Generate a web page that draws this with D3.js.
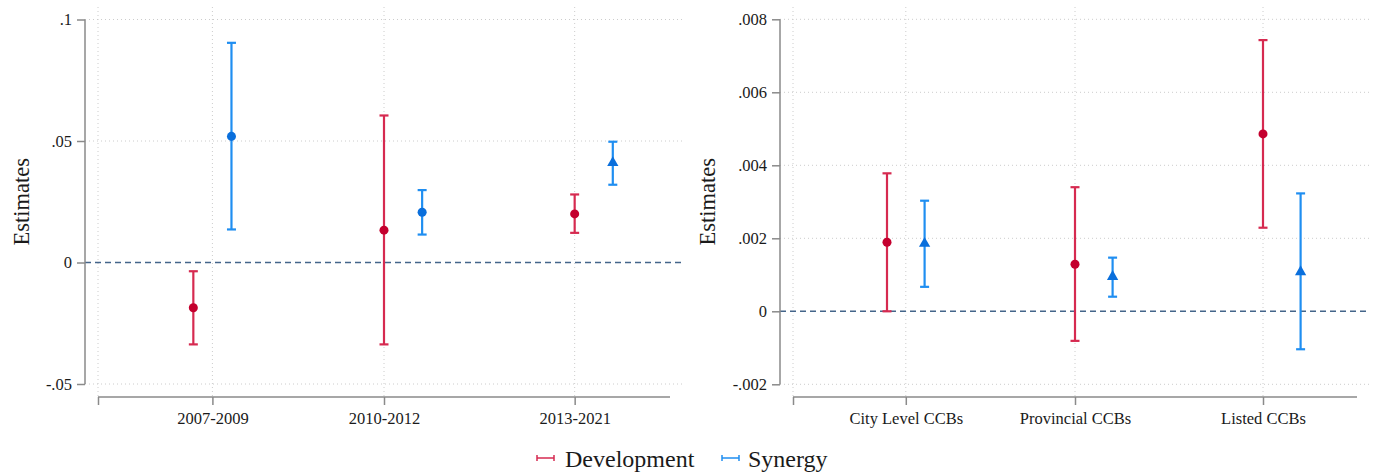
<!DOCTYPE html>
<html>
<head>
<meta charset="utf-8">
<script src="https://cdn.jsdelivr.net/npm/d3@7"></script>
<style>
  body { margin: 0; background: #fff; }
  svg text { font-family: "Liberation Serif", "Times New Roman", serif; fill: #1a1a1a; }
</style>
</head>
<body>
<svg id="svg" width="1375" height="475"></svg>
<script>
// left panel: by period
var periods = ["2007-2009", "2010-2012", "2013-2021"];
var periodTicks = [1, 1.9, 2.9];
var devPeriodEst = [-0.0186, 0.0133, 0.0200];
var devPeriodLo  = [-0.0337, -0.0337, 0.0122];
var devPeriodHi  = [-0.0036, 0.0605, 0.0280];
var synPeriodEst = [0.0519, 0.0207, 0.0410];
var synPeriodLo  = [0.0136, 0.0115, 0.0320];
var synPeriodHi  = [0.0904, 0.0298, 0.0497];
var synPeriodShape = ["circle", "circle", "triangle"];
var periodYTicks = [-0.05, 0, 0.05, 0.1];

// right panel: by bank type
var bankTypes = ["City Level CCBs", "Provincial CCBs", "Listed CCBs"];
var bankTicks = [1, 1.9, 2.9];
var devBankEst = [0.00189, 0.00129, 0.00486];
var devBankLo  = [0.0000, -0.00081, 0.00229];
var devBankHi  = [0.00378, 0.00340, 0.00743];
var synBankEst = [0.00186, 0.00095, 0.00108];
var synBankLo  = [0.00067, 0.00040, -0.00104];
var synBankHi  = [0.00303, 0.00147, 0.00323];
var synBankShape = ["triangle", "triangle", "triangle"];
var bankYTicks = [-0.002, 0, 0.002, 0.004, 0.006, 0.008];

var groupPos = [1, 2, 3];
var seriesNames = ["Development", "Synergy"];

var RED_LINE = "#d62a50", RED_DOT = "#c4002e";
var BLUE_LINE = "#1f8ef1", BLUE_DOT = "#0a6fdc";

var svg = d3.select("#svg");

function fmt(v) {
  if (v === 0) return "0";
  return String(+v.toPrecision(6)).replace("0.", ".");
}

function draw_panel(o) {
  var g = svg.append("g");
  var x = d3.scaleLinear().domain([0.4, 3.4]).range([o.x0, o.x1]);
  var y = d3.scaleLinear().domain(o.ydom).range([o.yBottom, o.yTop]);

  // grid
  var vgrid = [0.4].concat(o.ticks);
  g.selectAll(".vg").data(vgrid).enter().append("line")
    .attr("x1", function (d) { return x(d); }).attr("x2", function (d) { return x(d); })
    .attr("y1", 7).attr("y2", o.xAxisY)
    .attr("stroke", "#cccccc").attr("stroke-width", 1).attr("stroke-dasharray", "1,3");
  g.selectAll(".hg").data(o.yticks.filter(function (d) { return d !== 0; })).enter().append("line")
    .attr("x1", o.yAxisX).attr("x2", o.gridRight)
    .attr("y1", function (d) { return y(d); }).attr("y2", function (d) { return y(d); })
    .attr("stroke", "#cccccc").attr("stroke-width", 1).attr("stroke-dasharray", "1,3");

  // zero line
  g.append("line")
    .attr("x1", o.yAxisX).attr("x2", o.gridRight)
    .attr("y1", y(0)).attr("y2", y(0))
    .attr("stroke", "#44658a").attr("stroke-width", 1.6).attr("stroke-dasharray", "6,4");

  // y axis
  var yAxis = d3.axisLeft(y).tickValues(o.yticks).tickFormat(fmt).tickSize(8).tickPadding(5);
  var ya = g.append("g").attr("transform", "translate(" + o.yAxisX + ",0)").call(yAxis);
  ya.select(".domain").attr("stroke", "#8a8a8a").attr("stroke-width", 1.5).attr("d", "M0," + y(o.ydom[1]) + "V" + y(o.ydom[0]));
  ya.selectAll(".tick line").attr("stroke", "#8a8a8a").attr("stroke-width", 1.5);
  ya.selectAll(".tick text").style("font-size", "16.5px").attr("fill", "#1a1a1a");

  // x axis
  var xAxis = d3.axisBottom(x).tickValues(vgrid).tickSize(8).tickPadding(7)
    .tickFormat(function (d, i) { return i === 0 ? "" : o.labels[i - 1]; });
  var xa = g.append("g").attr("transform", "translate(0," + o.xAxisY + ")").call(xAxis);
  xa.select(".domain").attr("stroke", "#8a8a8a").attr("stroke-width", 1.5).attr("d", "M" + o.x0 + ",0H" + o.x1);
  xa.selectAll(".tick line").attr("stroke", "#8a8a8a").attr("stroke-width", 1.5);
  xa.selectAll(".tick text").style("font-size", "16.5px").attr("fill", "#1a1a1a");

  // y title
  g.append("text")
    .attr("transform", "translate(" + o.titleX + "," + (y(o.ydom[0]) + y(o.ydom[1])) / 2 + ") rotate(-90)")
    .attr("text-anchor", "middle")
    .style("font-size", "22.5px")
    .text("Estimates");

  // series
  var series = [
    {off: -0.1, est: o.devEst, lo: o.devLo, hi: o.devHi, shape: ["circle", "circle", "circle"], line: RED_LINE, dot: RED_DOT},
    {off: 0.1, est: o.synEst, lo: o.synLo, hi: o.synHi, shape: o.synShape, line: BLUE_LINE, dot: BLUE_DOT}
  ];
  series.forEach(function (s) {
    var pts = groupPos.map(function (p, i) {
      return {x: p + s.off, est: s.est[i], lo: s.lo[i], hi: s.hi[i], shape: s.shape[i]};
    });
    var sg = g.append("g");
    sg.selectAll(".bar").data(pts).enter().append("line")
      .attr("x1", function (d) { return x(d.x); }).attr("x2", function (d) { return x(d.x); })
      .attr("y1", function (d) { return y(d.lo); }).attr("y2", function (d) { return y(d.hi); })
      .attr("stroke", s.line).attr("stroke-width", 2.2);
    ["lo", "hi"].forEach(function (k) {
      sg.selectAll(".cap" + k).data(pts).enter().append("line")
        .attr("x1", function (d) { return x(d.x) - 4.5; }).attr("x2", function (d) { return x(d.x) + 4.5; })
        .attr("y1", function (d) { return y(d[k]); }).attr("y2", function (d) { return y(d[k]); })
        .attr("stroke", s.line).attr("stroke-width", 2.2);
    });
    sg.selectAll(".pt").data(pts).enter().append("path")
      .attr("transform", function (d) { return "translate(" + x(d.x) + "," + y(d.est) + ")"; })
      .attr("d", function (d) {
        return d3.symbol().type(d.shape === "triangle" ? d3.symbolTriangle : d3.symbolCircle)
          .size(d.shape === "triangle" ? 55 : 64)();
      })
      .attr("fill", s.dot);
  });
}

draw_panel({
  x0: 98, x1: 670, yAxisX: 85, gridRight: 683, titleX: 29,
  yTop: 19.5, yBottom: 384, xAxisY: 397,
  ydom: [-0.05, 0.1], yticks: periodYTicks,
  ticks: periodTicks, labels: periods,
  devEst: devPeriodEst, devLo: devPeriodLo, devHi: devPeriodHi,
  synEst: synPeriodEst, synLo: synPeriodLo, synHi: synPeriodHi, synShape: synPeriodShape
});

draw_panel({
  x0: 793, x1: 1357, yAxisX: 780, gridRight: 1370, titleX: 715,
  yTop: 19.3, yBottom: 384.3, xAxisY: 397,
  ydom: [-0.002, 0.008], yticks: bankYTicks,
  ticks: bankTicks, labels: bankTypes,
  devEst: devBankEst, devLo: devBankLo, devHi: devBankHi,
  synEst: synBankEst, synLo: synBankLo, synHi: synBankHi, synShape: synBankShape
});

// legend
var legend = svg.append("g");
var legendItems = [
  {name: seriesNames[0], color: RED_LINE, sx: 537, tx: 565},
  {name: seriesNames[1], color: BLUE_LINE, sx: 722, tx: 748}
];
legendItems.forEach(function (d) {
  legend.append("line").attr("x1", d.sx).attr("x2", d.sx + 17).attr("y1", 458).attr("y2", 458)
    .attr("stroke", d.color).attr("stroke-width", 1.5);
  legend.append("line").attr("x1", d.sx).attr("x2", d.sx).attr("y1", 455).attr("y2", 461)
    .attr("stroke", d.color).attr("stroke-width", 1.5);
  legend.append("line").attr("x1", d.sx + 17).attr("x2", d.sx + 17).attr("y1", 455).attr("y2", 461)
    .attr("stroke", d.color).attr("stroke-width", 1.5);
  legend.append("text").attr("x", d.tx).attr("y", 467).style("font-size", "24px").text(d.name);
});
</script>
</body>
</html>
